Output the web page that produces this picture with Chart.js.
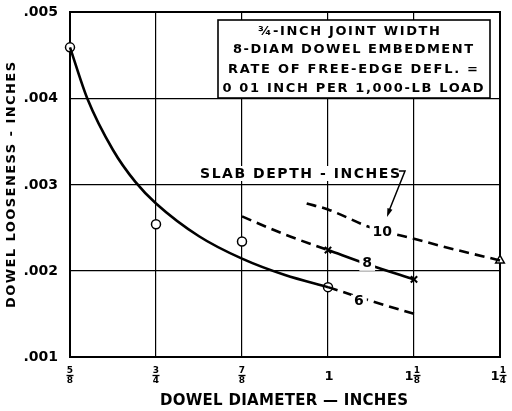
<!DOCTYPE html>
<html lang="en">
<head>
    <meta charset="UTF-8">
    <title>Dowel looseness</title>
    <script src="https://cdn.jsdelivr.net/npm/chart.js"></script>
    <style>
        body { margin: 0; background: #fff; }
        canvas { display: block; }
    </style>
</head>
<body>
    <canvas id="chart" width="512" height="411"></canvas>
    <script>
    // x ticks (dowel diameter, inches) and their stacked-fraction labels
    const xTickValues = [0.625, 0.75, 0.875, 1.0, 1.125, 1.25];
    const xTickWhole = ['', '', '', '1', '1', '1'];
    const xTickNum = ['5', '3', '7', '', '1', '1'];
    const xTickDen = ['8', '4', '8', '', '8', '4'];
    const yTickValues = [0.001, 0.002, 0.003, 0.004, 0.005];
    const yTickLabels = ['.001', '.002', '.003', '.004', '.005'];

    // 6-inch slab: fitted curve (solid) and its extension (dashed)
    const fit6X = [0.625, 0.65, 0.6875, 0.72, 0.75, 0.8125, 0.875, 0.9375, 1.0];
    const fit6Y = [0.00459, 0.0040, 0.0034, 0.00303, 0.00278, 0.0024, 0.00214, 0.00195, 0.00181];
    const ext6X = [1.0, 1.0625, 1.125];
    const ext6Y = [0.00181, 0.00165, 0.0015];

    // 8-inch slab
    const dash8X = [0.875, 0.9375, 1.0];
    const dash8Y = [0.00263, 0.00242, 0.00224];
    const solid8X = [1.0, 1.0625, 1.125];
    const solid8Y = [0.00224, 0.00206, 0.0019];

    // 10-inch slab
    const dash10X = [0.969, 1.0, 1.0625, 1.125, 1.1875, 1.25];
    const dash10Y = [0.00278, 0.00271, 0.0025, 0.00237, 0.00224, 0.00212];

    // measured points
    const obs6X = [0.625, 0.75, 0.875, 1.0];
    const obs6Y = [0.00459, 0.00254, 0.00234, 0.00181];
    const obs8X = [1.0, 1.125];
    const obs8Y = [0.00224, 0.0019];
    const obs10X = [1.25];
    const obs10Y = [0.00212];

    const pts = (xs, ys) => xs.map((x, i) => ({ x: x, y: ys[i] }));

    function curve(xs, ys, dashed) {
        return {
            data: pts(xs, ys),
            showLine: true,
            borderColor: '#000',
            borderWidth: 2.6,
            borderDash: dashed ? [10, 6] : [],
            pointRadius: 0,
            cubicInterpolationMode: 'monotone',
            clip: false
        };
    }
    function marks(xs, ys, style, r) {
        return {
            data: pts(xs, ys),
            showLine: false,
            pointStyle: style,
            pointRadius: r,
            pointBackgroundColor: '#fff',
            pointBorderColor: '#000',
            pointBorderWidth: style === 'crossRot' ? 2 : 1.5,
            clip: false
        };
    }

    const FONT = '"DejaVu Sans", sans-serif';

    function fitText(ctx, str, cx, cy, w, font) {
        ctx.font = font;
        ctx.textAlign = 'left';
        ctx.textBaseline = 'middle';
        if ('letterSpacing' in ctx) {
            ctx.letterSpacing = '0px';
            const w0 = ctx.measureText(str).width;
            const sp = str.length > 1 ? (w - w0) / (str.length - 1) : 0;
            ctx.letterSpacing = sp + 'px';
            ctx.fillText(str, cx - w / 2, cy);
            ctx.letterSpacing = '0px';
        } else {
            const w0 = ctx.measureText(str).width;
            ctx.save();
            ctx.translate(cx - w / 2, cy);
            ctx.scale(w / w0, 1);
            ctx.fillText(str, 0, 0);
            ctx.restore();
        }
    }

    const decor = {
        id: 'decor',
        beforeDatasetsDraw(chart) {
            const ctx = chart.ctx;
            const a = chart.chartArea;
            ctx.save();
            // heavy frame
            ctx.strokeStyle = '#000';
            ctx.lineWidth = 2;
            ctx.strokeRect(a.left, a.top, a.right - a.left, a.bottom - a.top);
            // note box
            ctx.fillStyle = '#fff';
            ctx.fillRect(218, 20, 272, 78);
            ctx.lineWidth = 1.6;
            ctx.strokeRect(218, 20, 272, 78);
            ctx.fillStyle = '#000';
            const bf = 'bold 13px ' + FONT;
            fitText(ctx, '¾-INCH JOINT WIDTH', 349, 31.5, 182, bf);
            fitText(ctx, '8-DIAM DOWEL EMBEDMENT', 353, 49.5, 240, bf);
            fitText(ctx, 'RATE OF FREE-EDGE DEFL. =', 353, 70, 250, bf);
            fitText(ctx, '0 01 INCH PER 1,000-LB LOAD', 353, 88.5, 261, bf);
            // slab depth caption with leader arrow
            const sw = 200;
            ctx.fillStyle = '#fff';
            ctx.fillRect(198, 166, sw + 4, 15);
            ctx.fillStyle = '#000';
            fitText(ctx, 'SLAB DEPTH - INCHES', 300, 174, sw, 'bold 14px ' + FONT);
            ctx.lineWidth = 1.5;
            ctx.beginPath();
            ctx.moveTo(399, 171);
            ctx.lineTo(405, 171);
            ctx.lineTo(389, 211);
            ctx.stroke();
            const ang = Math.atan2(44, -16);
            ctx.beginPath();
            ctx.moveTo(387, 217);
            ctx.lineTo(387 - 9 * Math.cos(ang - 0.3), 217 - 9 * Math.sin(ang - 0.3));
            ctx.lineTo(387 - 9 * Math.cos(ang + 0.3), 217 - 9 * Math.sin(ang + 0.3));
            ctx.closePath();
            ctx.fill();
            ctx.restore();
        },
        afterDatasetsDraw(chart) {
            const ctx = chart.ctx;
            const xs = chart.scales.x, ys = chart.scales.y;
            ctx.save();
            ctx.font = 'bold 14px ' + FONT;
            ctx.textAlign = 'center';
            ctx.textBaseline = 'middle';
            [['6', 1.045, 0.00164], ['8', 1.057, 0.00208], ['10', 1.079, 0.00245]].forEach(l => {
                const px = xs.getPixelForValue(l[1]);
                const py = ys.getPixelForValue(l[2]);
                const w = ctx.measureText(l[0]).width + 6;
                ctx.fillStyle = '#fff';
                ctx.fillRect(px - w / 2, py - 7, w, 14);
                ctx.fillStyle = '#000';
                ctx.fillText(l[0], px, py);
            });
            ctx.restore();
        },
        afterDraw(chart) {
            const ctx = chart.ctx;
            const xs = chart.scales.x, ys = chart.scales.y;
            ctx.save();
            ctx.fillStyle = '#000';
            ctx.strokeStyle = '#000';
            // y tick labels
            ctx.font = 'bold 14px ' + FONT;
            ctx.textAlign = 'right';
            ctx.textBaseline = 'middle';
            yTickValues.forEach((v, i) => {
                ctx.fillText(yTickLabels[i], 58, ys.getPixelForValue(v) + 0.5);
            });
            // x tick labels (stacked fractions)
            xTickValues.forEach((v, i) => {
                let px = xs.getPixelForValue(v);
                const whole = xTickWhole[i], num = xTickNum[i];
                if (whole && num) {
                    ctx.font = 'bold 13px ' + FONT;
                    ctx.textAlign = 'center';
                    ctx.fillText(whole, px - 5, 377);
                    px += 3;
                } else if (whole) {
                    ctx.font = 'bold 13px ' + FONT;
                    ctx.textAlign = 'center';
                    ctx.fillText(whole, px + 1, 377);
                }
                if (num) {
                    ctx.font = 'bold 9px ' + FONT;
                    ctx.textAlign = 'center';
                    ctx.fillText(num, px, 370.5);
                    ctx.fillText(xTickDen[i], px, 380.5);
                    ctx.lineWidth = 1.3;
                    ctx.beginPath();
                    ctx.moveTo(px - 3.5, 375.5);
                    ctx.lineTo(px + 3.5, 375.5);
                    ctx.stroke();
                }
            });
            // axis titles
            fitText(ctx, 'DOWEL DIAMETER — INCHES', 284, 401, 248, 'bold 15px ' + FONT);
            ctx.translate(12, 185);
            ctx.rotate(-Math.PI / 2);
            fitText(ctx, 'DOWEL LOOSENESS - INCHES', 0, 0, 246, 'bold 13px ' + FONT);
            ctx.restore();
        }
    };

    new Chart(document.getElementById('chart'), {
        type: 'scatter',
        data: {
            datasets: [
                curve(fit6X, fit6Y, false),
                curve(ext6X, ext6Y, true),
                curve(dash8X, dash8Y, true),
                curve(solid8X, solid8Y, false),
                curve(dash10X, dash10Y, true),
                marks(obs6X, obs6Y, 'circle', 4.5),
                marks(obs8X, obs8Y, 'crossRot', 4.5),
                marks(obs10X, obs10Y, 'triangle', 5)
            ]
        },
        options: {
            responsive: false,
            animation: false,
            devicePixelRatio: 1,
            layout: { padding: { left: 70, right: 12, top: 12, bottom: 54 } },
            plugins: { legend: { display: false }, tooltip: { enabled: false } },
            scales: {
                x: {
                    type: 'linear', min: 0.625, max: 1.25,
                    afterBuildTicks: s => { s.ticks = xTickValues.map(v => ({ value: v })); },
                    ticks: { display: false },
                    grid: { color: '#000', lineWidth: 1.2, drawTicks: false },
                    border: { display: false }
                },
                y: {
                    type: 'linear', min: 0.001, max: 0.005,
                    afterBuildTicks: s => { s.ticks = yTickValues.map(v => ({ value: v })); },
                    ticks: { display: false },
                    grid: { color: '#000', lineWidth: 1.2, drawTicks: false },
                    border: { display: false }
                }
            }
        },
        plugins: [decor]
    });
    </script>
</body>
</html>
